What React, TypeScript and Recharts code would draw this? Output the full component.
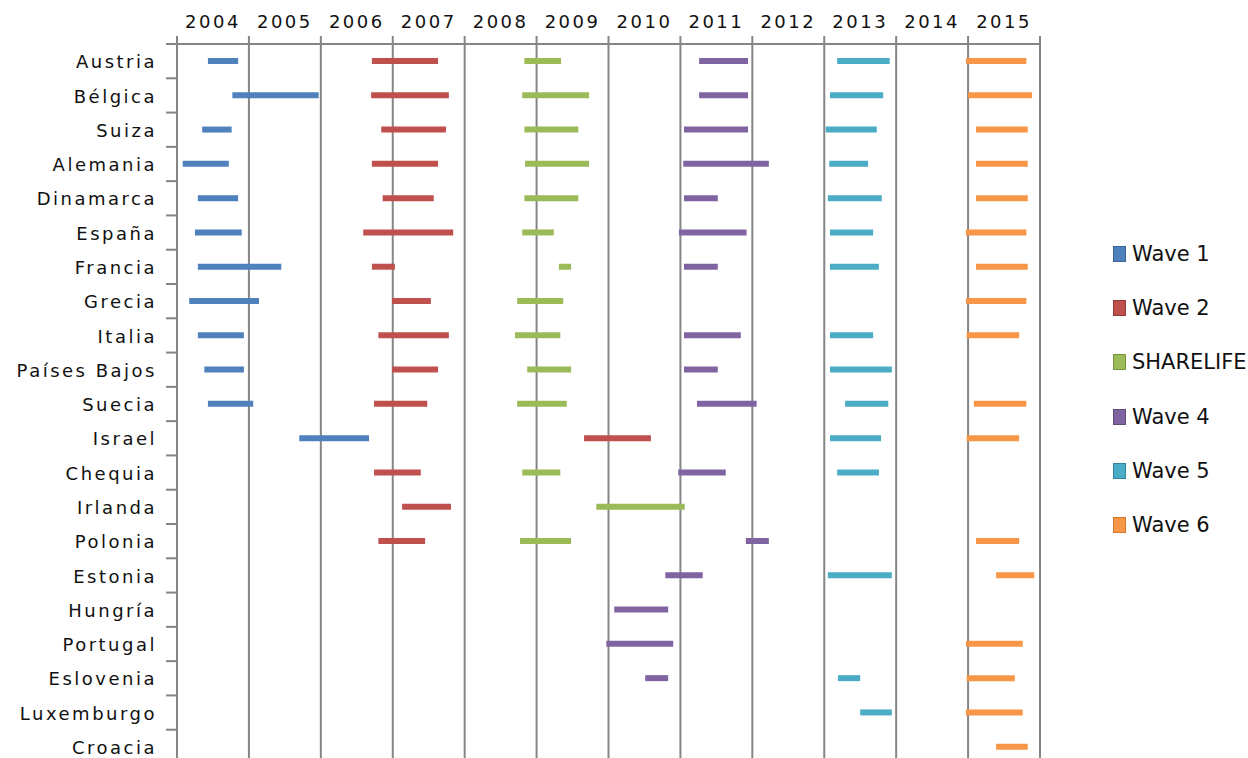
import { Bar, BarChart, CartesianGrid, Legend, XAxis, YAxis } from "recharts";

const countries = [
  "Austria", "Bélgica", "Suiza", "Alemania", "Dinamarca", "España", "Francia",
  "Grecia", "Italia", "Países Bajos", "Suecia", "Israel", "Chequia", "Irlanda",
  "Polonia", "Estonia", "Hungría", "Portugal", "Eslovenia", "Luxemburgo", "Croacia",
];

const yearTicks = [2004, 2005, 2006, 2007, 2008, 2009, 2010, 2011, 2012, 2013, 2014, 2015, 2016];

// [start, end] of fieldwork, in fractional years; null = country not in that wave
const wave1 = [
  [2004.43, 2004.85], [2004.77, 2005.97], [2004.35, 2004.76], [2004.08, 2004.72],
  [2004.29, 2004.85], [2004.25, 2004.9], [2004.29, 2005.45], [2004.17, 2005.14],
  [2004.29, 2004.93], [2004.38, 2004.93], [2004.43, 2005.06], [2005.7, 2006.67],
  null, null, null, null, null, null, null, null, null,
];

const wave2 = [
  [2006.71, 2007.63], [2006.7, 2007.78], [2006.84, 2007.74], [2006.71, 2007.63],
  [2006.86, 2007.57], [2006.59, 2007.84], [2006.71, 2007.03], [2006.99, 2007.53],
  [2006.8, 2007.78], [2006.99, 2007.63], [2006.74, 2007.48], [2009.66, 2010.59],
  [2006.74, 2007.39], [2007.13, 2007.81], [2006.8, 2007.45],
  null, null, null, null, null, null,
];

const sharelife = [
  [2008.83, 2009.34], [2008.8, 2009.73], [2008.83, 2009.58], [2008.84, 2009.73],
  [2008.83, 2009.58], [2008.8, 2009.24], [2009.31, 2009.48], [2008.73, 2009.37],
  [2008.7, 2009.33], [2008.87, 2009.48], [2008.73, 2009.42], null,
  [2008.8, 2009.33], [2009.83, 2011.06], [2008.77, 2009.48],
  null, null, null, null, null, null,
];

const wave4 = [
  [2011.26, 2011.94], [2011.26, 2011.94], [2011.05, 2011.94], [2011.04, 2012.23],
  [2011.05, 2011.52], [2010.98, 2011.92], [2011.05, 2011.52], null,
  [2011.05, 2011.84], [2011.05, 2011.52], [2011.23, 2012.06], null,
  [2010.97, 2011.63], null, [2011.91, 2012.23], [2010.79, 2011.31],
  [2010.08, 2010.83], [2009.97, 2010.9], [2010.51, 2010.83], null, null,
];

const wave5 = [
  [2013.18, 2013.91], [2013.08, 2013.82], [2013.02, 2013.73], [2013.07, 2013.61],
  [2013.05, 2013.8], [2013.08, 2013.68], [2013.08, 2013.76], null,
  [2013.08, 2013.68], [2013.08, 2013.94], [2013.29, 2013.89], [2013.08, 2013.79],
  [2013.18, 2013.76], null, null, [2013.05, 2013.94],
  null, null, [2013.19, 2013.5], [2013.5, 2013.94], null,
];

const wave6 = [
  [2014.97, 2015.81], [2015.0, 2015.89], [2015.11, 2015.83], [2015.11, 2015.83],
  [2015.11, 2015.83], [2014.97, 2015.81], [2015.11, 2015.83], [2014.97, 2015.81],
  [2014.98, 2015.71], null, [2015.08, 2015.81], [2014.98, 2015.71],
  null, null, [2015.11, 2015.71], [2015.39, 2015.92],
  null, [2014.97, 2015.76], [2014.98, 2015.65], [2014.97, 2015.76], [2015.39, 2015.83],
];

const series = [
  { key: "w1", name: "Wave 1", color: "#4F81BD", border: "#3A6496", values: wave1 },
  { key: "w2", name: "Wave 2", color: "#C0504D", border: "#943C3A", values: wave2 },
  { key: "sl", name: "SHARELIFE", color: "#9BBB59", border: "#76923F", values: sharelife },
  { key: "w4", name: "Wave 4", color: "#8064A2", border: "#5F4A7A", values: wave4 },
  { key: "w5", name: "Wave 5", color: "#4BACC6", border: "#31849B", values: wave5 },
  { key: "w6", name: "Wave 6", color: "#F79646", border: "#D2772A", values: wave6 },
];

// missing waves are left undefined so no bar is drawn
const data = countries.map((country, i) => {
  const row: Record<string, unknown> = { country };
  series.forEach((s) => {
    const v = s.values[i];
    if (v) row[s.key] = v;
  });
  return row;
});

const FONT = "'DejaVu Sans', Verdana, sans-serif";
const GRID = "#858585";
const TEXT = "#111";
const BAND = (764 - 44) / countries.length;
const HALF_YEAR = (1040 - 177) / 12 / 2;

function YearTick({ x, y, payload }: any) {
  if (payload.value === 2016) return <g />;
  return (
    <text x={x + HALF_YEAR} y={y} textAnchor="middle" fontFamily={FONT} fontSize={18} letterSpacing={2.5} fill={TEXT}>
      {payload.value}
    </text>
  );
}

function CountryTick({ x, y, payload }: any) {
  const top = y - BAND / 2;
  return (
    <g>
      <line x1={x + 9} x2={x + 20} y1={top} y2={top} stroke={GRID} strokeWidth={2} />
      <text x={x} y={y} dy="0.4em" textAnchor="end" fontFamily={FONT} fontSize={18} letterSpacing={2.5} fill={TEXT}>
        {payload.value}
      </text>
    </g>
  );
}

function WaveLegend() {
  return (
    <div>
      {series.map((s) => (
        <div key={s.key} style={{ height: 54.2, display: "flex", alignItems: "center" }}>
          <span
            style={{
              display: "inline-block",
              width: 11,
              height: 14,
              background: s.color,
              border: `1px solid ${s.border}`,
              marginRight: 6,
            }}
          />
          <span style={{ fontFamily: FONT, fontSize: 21, color: "#111", whiteSpace: "nowrap" }}>{s.name}</span>
        </div>
      ))}
    </div>
  );
}

export default function App() {
  return (
    <div style={{ position: "absolute", left: 0, top: 0, width: 1248, height: 758, overflow: "hidden", background: "#fff" }}>
      <BarChart
        width={1248}
        height={764}
        data={data}
        layout="vertical"
        margin={{ top: 0, right: 208, bottom: 0, left: 0 }}
        barSize={6}
        barGap={-6}
      >
        <CartesianGrid horizontal={false} stroke={GRID} strokeWidth={2} />
        <XAxis
          type="number"
          orientation="top"
          domain={[2004, 2016]}
          ticks={yearTicks}
          height={44}
          tickSize={8}
          tickMargin={8}
          axisLine={{ stroke: GRID, strokeWidth: 2 }}
          tickLine={{ stroke: GRID, strokeWidth: 2 }}
          tick={<YearTick />}
          interval={0}
        />
        <YAxis
          type="category"
          dataKey="country"
          width={177}
          tickSize={0}
          tickMargin={20}
          tickLine={false}
          axisLine={{ stroke: GRID, strokeWidth: 2 }}
          tick={<CountryTick />}
          interval={0}
        />
        <Legend
          layout="horizontal"
          verticalAlign="middle"
          align="center"
          content={<WaveLegend />}
          wrapperStyle={{ left: 1113, top: 227, width: 135, height: 330 }}
        />
        {series.map((s) => (
          <Bar key={s.key} dataKey={s.key} name={s.name} fill={s.color} isAnimationActive={false} />
        ))}
      </BarChart>
    </div>
  );
}
